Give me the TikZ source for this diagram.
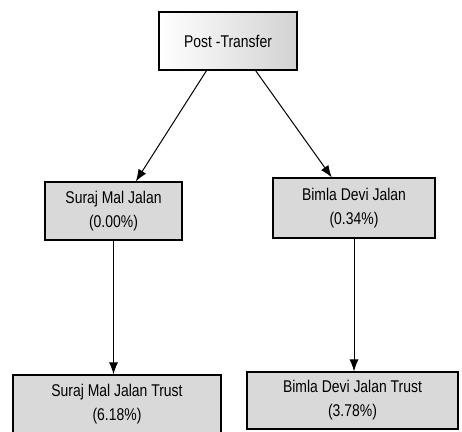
\documentclass[tikz,border=0pt]{standalone}
\usepackage{fontspec}
\setmainfont{Liberation Sans}[FakeStretch=0.82]
\usetikzlibrary{arrows.meta}

\tikzset{
  holder/.style={draw, line width=1.2pt, fill=gray!30, align=center,
    inner sep=0pt, font=\fontsize{17}{24}\selectfont},
  flow/.style={line width=1pt, -{Latex[length=12pt,width=9pt]}}
}

\begin{document}
\begin{tikzpicture}[x=1pt,y=-1pt]
\useasboundingbox (0,0) rectangle (462,431);
\clip (0,0) rectangle (462,431);
% top box
\node[holder, left color=white, right color=gray!35,
  minimum width=138pt, minimum height=58pt] (post) at (228,41) {Post -Transfer};
% second row
\node[holder, minimum width=137pt, minimum height=58pt] (suraj) at (113.5,211)
  {Suraj Mal Jalan\\(0.00\%)};
\node[holder, minimum width=162pt, minimum height=60pt] (bimla) at (354,208)
  {Bimla Devi Jalan\\(0.34\%)};
% trusts
\node[holder, minimum width=208pt, minimum height=58pt] (smjt) at (117,404)
  {Suraj Mal Jalan Trust\\(6.18\%)};
\node[holder, minimum width=211pt, minimum height=57pt] (bdjt) at (352.5,400.5)
  {Bimla Devi Jalan Trust\\(3.78\%)};
% arrows
\draw[flow] (post.234) -- (suraj.53);
\draw[flow] (post.313) -- (bimla.126);
\draw[flow] (suraj.south) -- (suraj.south |- smjt.north);
\draw[flow] (bimla.south) -- (bimla.south |- bdjt.north);
\end{tikzpicture}
\end{document}
